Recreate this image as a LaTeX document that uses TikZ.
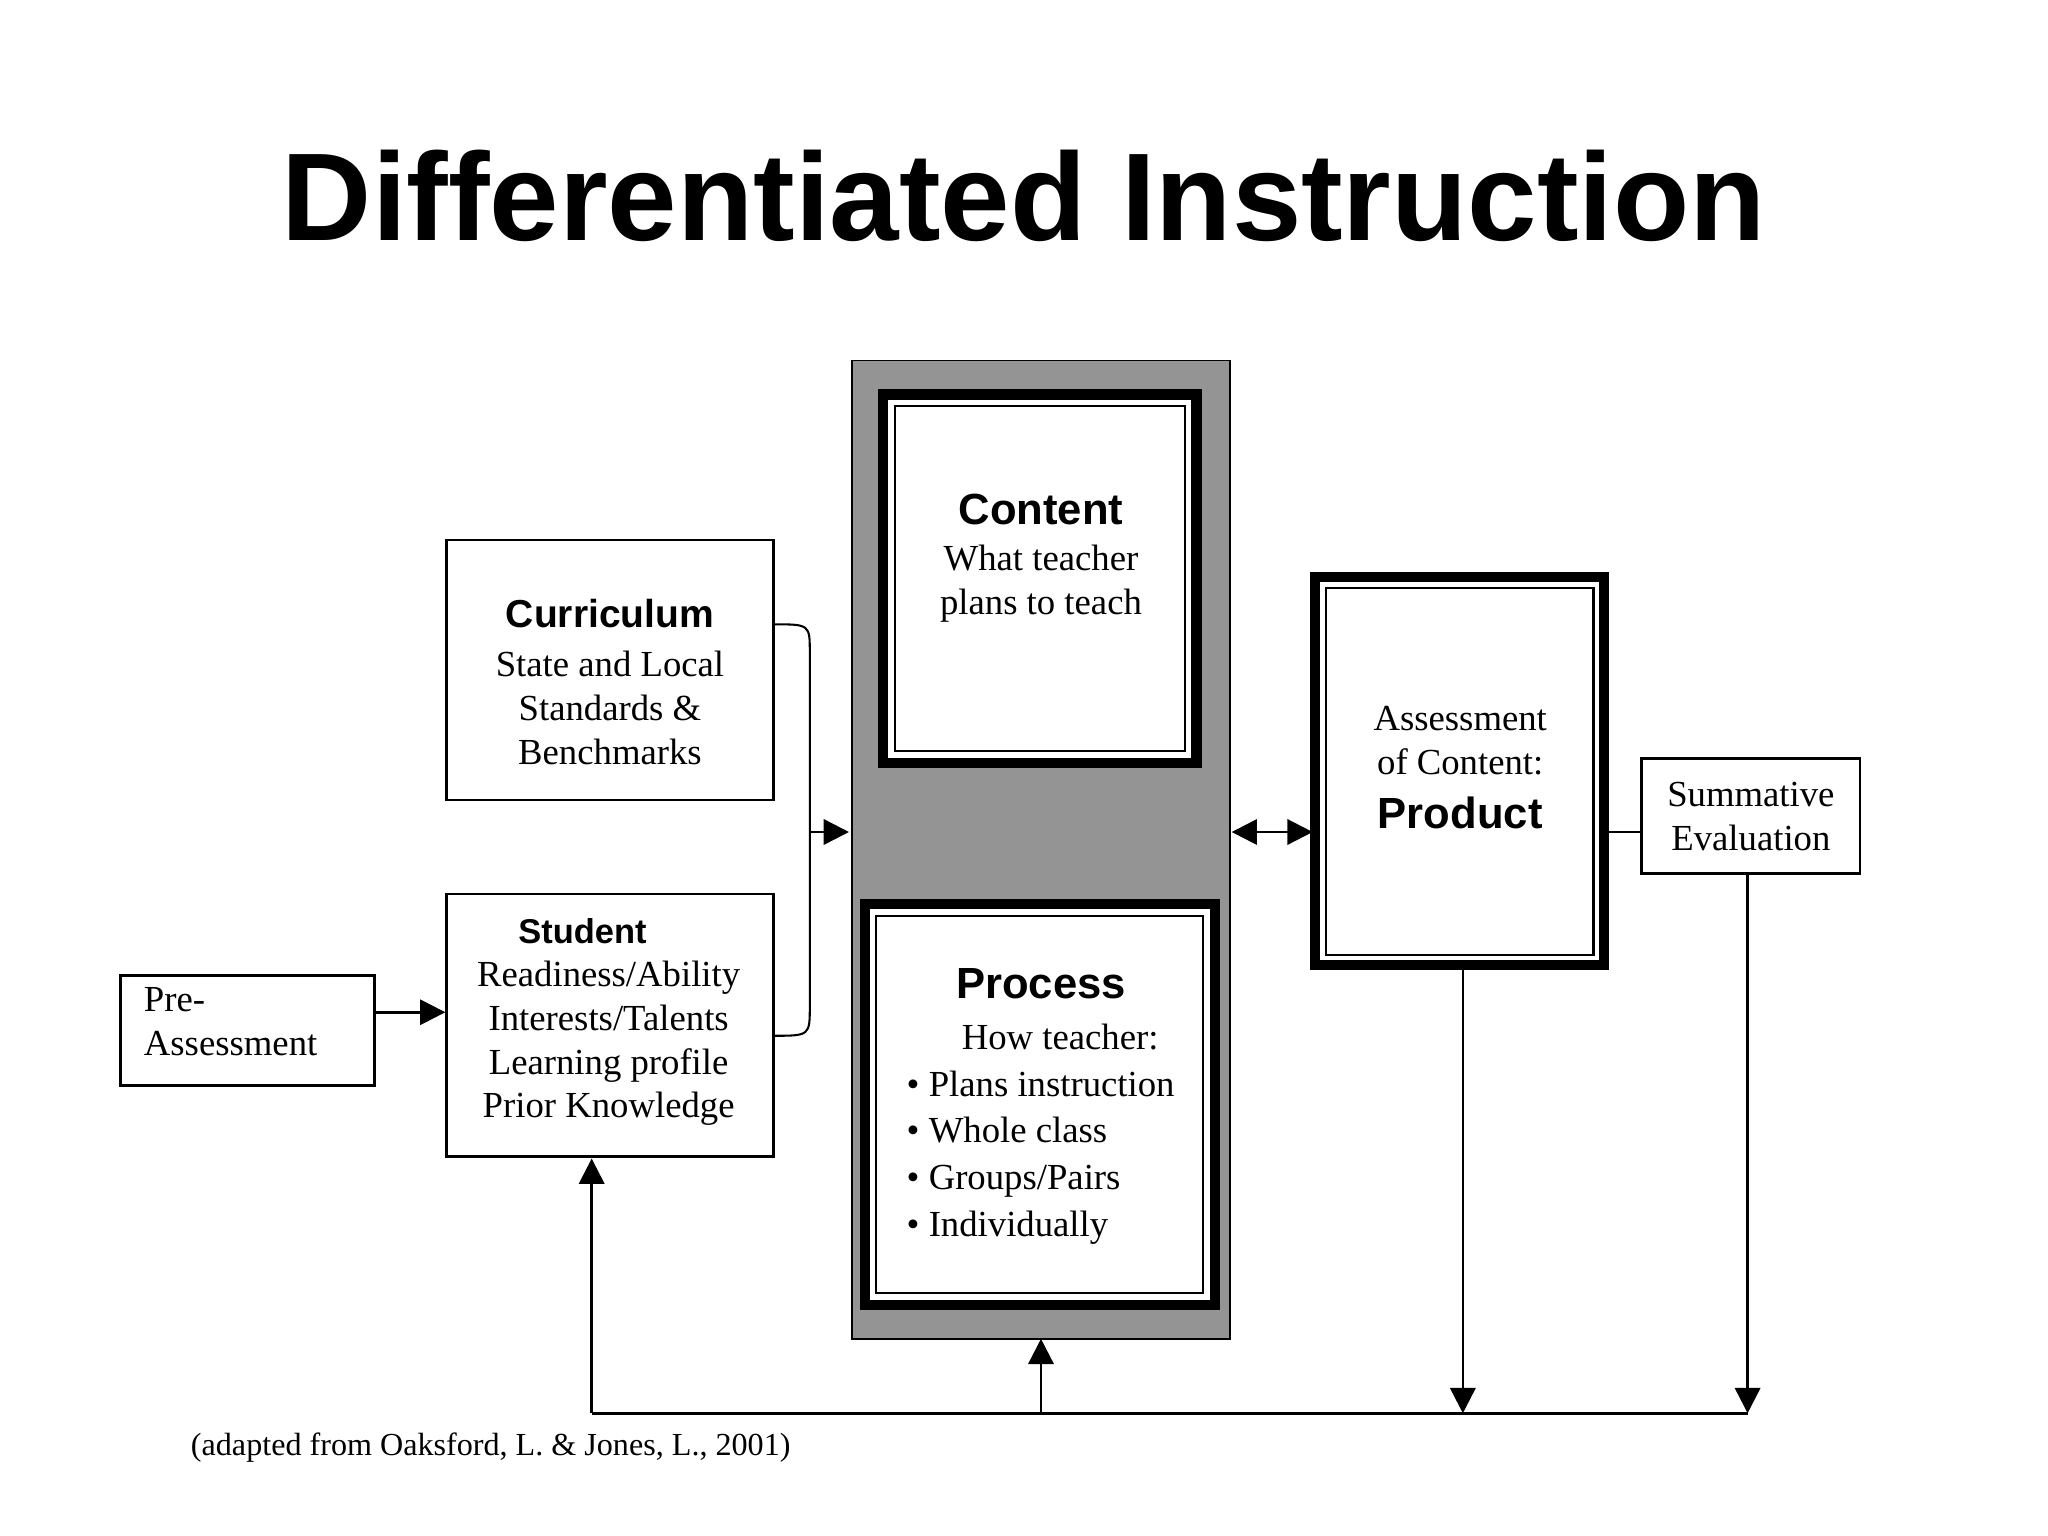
\documentclass[tikz,border=0pt]{standalone}
\usepackage{fontspec}
\setmainfont{Liberation Serif}
\setsansfont{Liberation Sans}
\usetikzlibrary{arrows.meta}
\begin{document}
\begin{tikzpicture}[x=0.02cm,y=-0.02cm,
  tx/.style={font=\fontsize{16}{19}\selectfont,align=center},
  hd/.style={font=\sffamily\bfseries\fontsize{19}{22}\selectfont},
  thin box/.style={draw,line width=1.2pt,fill=white},
  tip/.style={-{Triangle[length=11pt,width=11pt]},line width=1.1pt},
  ln/.style={line width=1.1pt}]
\useasboundingbox (0,0) rectangle (1568,1176);
\fill[white] (0,0) rectangle (1568,1176);
\node[font=\sffamily\bfseries\fontsize{54.4}{58}\selectfont] (title) at (784,150) {Differentiated Instruction};
% gray panel
\draw[fill=black!42,line width=0.8pt] (652,276) rectangle (942,1025);
\coordinate (gtop) at (797,1025);
% content
\draw[line width=4.5pt,fill=white] (676,302) rectangle (916,584);
\draw[line width=0.9pt] (685,311) rectangle (907,575);
\node[hd] (cth) at (797,390) {Content};
\node[tx] (ctt) at (797,447) {What teacher\\plans to teach};
% process
\draw[line width=4.5pt,fill=white] (662,692) rectangle (930,999);
\draw[line width=0.9pt] (671,701) rectangle (921,990);
\node[hd] (prh) at (797,753) {Process};
\node[align=left,anchor=north west,font=\fontsize{16}{20.3}\selectfont] (prt) at (688,778) {\hspace*{1.5em}How teacher:\\\textbullet{} Plans instruction\\\textbullet{} Whole class\\\textbullet{} Groups/Pairs\\\textbullet{} Individually};
% assessment
\draw[line width=4.5pt,fill=white] (1007,442) rectangle (1228,739);
\draw[line width=0.9pt] (1015,450) rectangle (1220,731);
\coordinate (asl) at (1005,637);
\coordinate (asr) at (1230,637);
\coordinate (asb) at (1120,741);
\node[tx] (ast) at (1118,567) {Assessment\\of Content:};
\node[hd] (asp) at (1118,622) {Product};
% curriculum
\node[thin box,minimum width=250*0.02cm,minimum height=199*0.02cm] (cur) at (467,513) {};
\node[hd,font=\sffamily\bfseries\fontsize{17}{20}\selectfont] at (467,470) {Curriculum};
\node[tx] at (467,542) {State and Local\\Standards \&\\Benchmarks};
% student
\node[thin box,minimum width=250*0.02cm,minimum height=201*0.02cm] (stu) at (467,785) {};
\node[font=\sffamily\bfseries\fontsize{15}{18}\selectfont] at (446,713) {Student};
\node[tx] at (466,799) {Readiness/Ability\\Interests/Talents\\Learning profile\\Prior Knowledge};
% pre-assessment
\node[thin box,minimum width=195*0.02cm,minimum height=84*0.02cm] (pre) at (189.5,789) {};
\node[tx,align=left,anchor=north west] at (104,750) {Pre-\\Assessment};
% summative
\node[thin box,minimum width=167*0.02cm,minimum height=88*0.02cm,tx] (sum) at (1340.5,625) {Summative\\Evaluation};
% brace
\draw[line width=0.9pt] (592,478) .. controls (620,478) .. (620,500) -- (620,770) .. controls (620,793) .. (592,793);
\coordinate (bmid) at (620,637);
\draw[tip] (bmid) -- (650,637);
% double arrow
\draw[{Triangle[length=11pt,width=11pt]}-{Triangle[length=11pt,width=11pt]},line width=1.1pt] (943,637) -- (asl);
\draw[ln] (asr) -- (sum.west |- asr);
% pre -> student
\draw[tip] (pre.east |- 0,775) -- (stu.west |- 0,775);
% bottom loop
\coordinate (b1) at (453,1082);
\coordinate (b2) at (797,1082);
\coordinate (b3) at (1120,1082);
\coordinate (b4) at (1338,1082);
\draw[ln] (b1) -- (b4);
\draw[tip] (b1) -- (453,887);
\draw[tip] (b2) -- (gtop);
\draw[tip] (asb) -- (b3);
\draw[tip] (sum.south -| b4) -- (b4);
\node[font=\fontsize{14}{16}\selectfont,anchor=west] (cite) at (140,1108) {(adapted from Oaksford, L. \& Jones, L., 2001)};
\end{tikzpicture}
\end{document}
